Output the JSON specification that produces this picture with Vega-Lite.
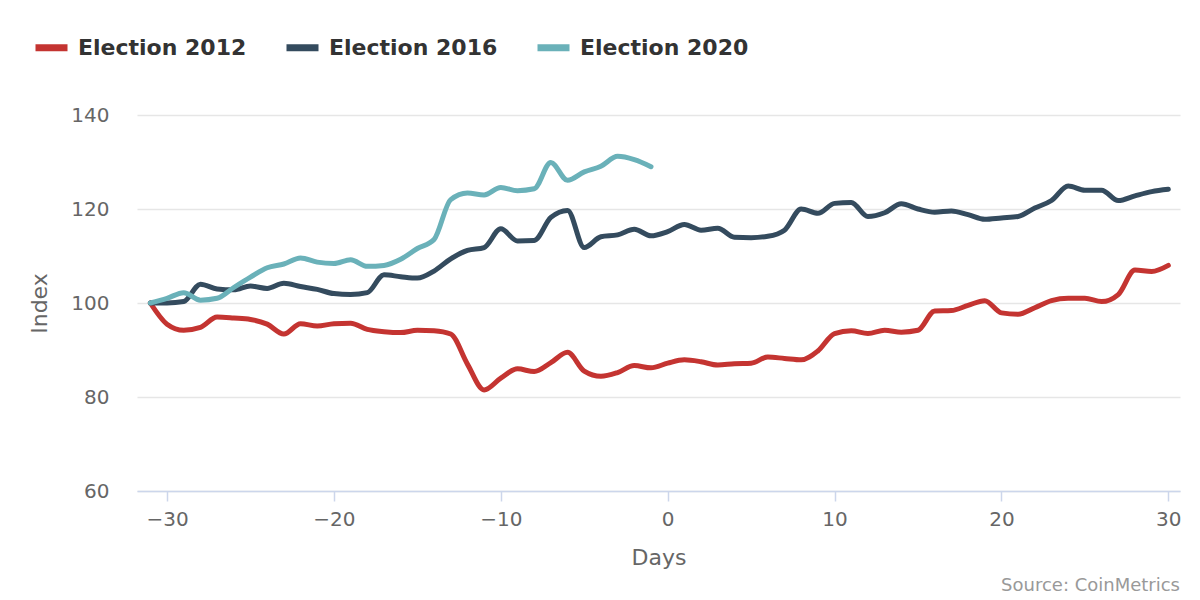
{
  "$schema": "https://vega.github.io/schema/vega-lite/v6.json",
  "width": 1043,
  "height": 376,
  "autosize": {"type": "none"},
  "padding": {"left": 137, "top": 115, "right": 20, "bottom": 109},
  "background": "white",
  "config": {"view": {"stroke": null}},
  "title": {"text": "Source: CoinMetrics", "orient": "bottom", "anchor": "end", "frame": "group", "font": "DejaVu Sans", "fontSize": 18, "fontWeight": "normal", "color": "#999999", "offset": 9},
  "datasets": {
    "s2012": [
      {"day": -31, "value": 100}, {"day": -30, "value": 95.5}, {"day": -29, "value": 94.2}, {"day": -28, "value": 94.8}, {"day": -27, "value": 97},
      {"day": -26, "value": 96.8}, {"day": -25, "value": 96.5}, {"day": -24, "value": 95.5}, {"day": -23, "value": 93.4}, {"day": -22, "value": 95.6},
      {"day": -21, "value": 95.1}, {"day": -20, "value": 95.6}, {"day": -19, "value": 95.7}, {"day": -18, "value": 94.4}, {"day": -17, "value": 93.9},
      {"day": -16, "value": 93.7}, {"day": -15, "value": 94.2}, {"day": -14, "value": 94.1}, {"day": -13, "value": 93.4}, {"day": -12, "value": 87},
      {"day": -11, "value": 81.5}, {"day": -10, "value": 84}, {"day": -9, "value": 86}, {"day": -8, "value": 85.4}, {"day": -7, "value": 87.3},
      {"day": -6, "value": 89.5}, {"day": -5, "value": 85.5}, {"day": -4, "value": 84.4}, {"day": -3, "value": 85.2}, {"day": -2, "value": 86.7},
      {"day": -1, "value": 86.2}, {"day": 0, "value": 87.2}, {"day": 1, "value": 87.9}, {"day": 2, "value": 87.5}, {"day": 3, "value": 86.8},
      {"day": 4, "value": 87.1}, {"day": 5, "value": 87.2}, {"day": 6, "value": 88.5}, {"day": 7, "value": 88.2}, {"day": 8, "value": 87.9},
      {"day": 9, "value": 89.8}, {"day": 10, "value": 93.5}, {"day": 11, "value": 94.1}, {"day": 12, "value": 93.5}, {"day": 13, "value": 94.2},
      {"day": 14, "value": 93.8}, {"day": 15, "value": 94.2}, {"day": 16, "value": 98.3}, {"day": 17, "value": 98.4}, {"day": 18, "value": 99.5},
      {"day": 19, "value": 100.5}, {"day": 20, "value": 97.9}, {"day": 21, "value": 97.6}, {"day": 22, "value": 99}, {"day": 23, "value": 100.5},
      {"day": 24, "value": 101}, {"day": 25, "value": 101}, {"day": 26, "value": 100.3}, {"day": 27, "value": 101.8}, {"day": 28, "value": 107},
      {"day": 29, "value": 106.7}, {"day": 30, "value": 108}
    ],
    "s2016": [
      {"day": -31, "value": 100}, {"day": -30, "value": 100}, {"day": -29, "value": 100.3}, {"day": -28, "value": 104}, {"day": -27, "value": 103},
      {"day": -26, "value": 102.8}, {"day": -25, "value": 103.6}, {"day": -24, "value": 103.1}, {"day": -23, "value": 104.2}, {"day": -22, "value": 103.5},
      {"day": -21, "value": 102.9}, {"day": -20, "value": 102}, {"day": -19, "value": 101.8}, {"day": -18, "value": 102.2}, {"day": -17, "value": 106},
      {"day": -16, "value": 105.6}, {"day": -15, "value": 105.3}, {"day": -14, "value": 106.8}, {"day": -13, "value": 109.4}, {"day": -12, "value": 111.2},
      {"day": -11, "value": 111.8}, {"day": -10, "value": 115.8}, {"day": -9, "value": 113.2}, {"day": -8, "value": 113.3}, {"day": -7, "value": 118.2},
      {"day": -6, "value": 119.7}, {"day": -5, "value": 111.8}, {"day": -4, "value": 114.1}, {"day": -3, "value": 114.5}, {"day": -2, "value": 115.7},
      {"day": -1, "value": 114.3}, {"day": 0, "value": 115.2}, {"day": 1, "value": 116.7}, {"day": 2, "value": 115.5}, {"day": 3, "value": 115.9},
      {"day": 4, "value": 114.0}, {"day": 5, "value": 113.9}, {"day": 6, "value": 114.2}, {"day": 7, "value": 115.5}, {"day": 8, "value": 120},
      {"day": 9, "value": 119.1}, {"day": 10, "value": 121.2}, {"day": 11, "value": 121.4}, {"day": 12, "value": 118.4}, {"day": 13, "value": 119.2},
      {"day": 14, "value": 121.1}, {"day": 15, "value": 120}, {"day": 16, "value": 119.3}, {"day": 17, "value": 119.6}, {"day": 18, "value": 118.8},
      {"day": 19, "value": 117.8}, {"day": 20, "value": 118.1}, {"day": 21, "value": 118.4}, {"day": 22, "value": 120.2}, {"day": 23, "value": 121.8},
      {"day": 24, "value": 124.9}, {"day": 25, "value": 124}, {"day": 26, "value": 124}, {"day": 27, "value": 121.8}, {"day": 28, "value": 122.8},
      {"day": 29, "value": 123.7}, {"day": 30, "value": 124.2}
    ],
    "s2020": [
      {"day": -31, "value": 100}, {"day": -30, "value": 101}, {"day": -29, "value": 102.2}, {"day": -28, "value": 100.6}, {"day": -27, "value": 101},
      {"day": -26, "value": 103.3}, {"day": -25, "value": 105.5}, {"day": -24, "value": 107.5}, {"day": -23, "value": 108.3}, {"day": -22, "value": 109.6},
      {"day": -21, "value": 108.7}, {"day": -20, "value": 108.4}, {"day": -19, "value": 109.2}, {"day": -18, "value": 107.8}, {"day": -17, "value": 108},
      {"day": -16, "value": 109.3}, {"day": -15, "value": 111.6}, {"day": -14, "value": 113.5}, {"day": -13, "value": 122}, {"day": -12, "value": 123.4},
      {"day": -11, "value": 123}, {"day": -10, "value": 124.6}, {"day": -9, "value": 123.9}, {"day": -8, "value": 124.3}, {"day": -7, "value": 129.9},
      {"day": -6, "value": 126.1}, {"day": -5, "value": 127.9}, {"day": -4, "value": 129.1}, {"day": -3, "value": 131.2}, {"day": -2, "value": 130.5},
      {"day": -1, "value": 129}
    ]
  },
  "layer": [
    {"data": {"name": "s2012"}, "transform": [{"calculate": "'Election 2012'", "as": "series"}], "mark": {"type": "line", "interpolate": "monotone", "strokeWidth": 5, "strokeCap": "round", "strokeJoin": "round"}},
    {"data": {"name": "s2016"}, "transform": [{"calculate": "'Election 2016'", "as": "series"}], "mark": {"type": "line", "interpolate": "monotone", "strokeWidth": 5, "strokeCap": "round", "strokeJoin": "round"}},
    {"data": {"name": "s2020"}, "transform": [{"calculate": "'Election 2020'", "as": "series"}], "mark": {"type": "line", "interpolate": "monotone", "strokeWidth": 5, "strokeCap": "round", "strokeJoin": "round"}}
  ],
  "encoding": {
    "x": {"field": "day", "type": "quantitative", "scale": {"domain": [-31.8, 30.7], "nice": false, "zero": false},
      "axis": {"values": [-30, -20, -10, 0, 10, 20, 30], "title": "Days", "grid": false, "domainColor": "#ccd6eb", "domainWidth": 1.5, "tickColor": "#ccd6eb", "tickWidth": 1.5, "tickSize": 10,
        "labelFont": "DejaVu Sans", "labelFontSize": 20, "labelColor": "#666666", "labelPadding": 8,
        "titleFont": "DejaVu Sans", "titleFontSize": 22, "titleFontWeight": "normal", "titleColor": "#666666", "titlePadding": 18}},
    "y": {"field": "value", "type": "quantitative", "scale": {"domain": [60, 140], "nice": false, "zero": false},
      "axis": {"values": [60, 80, 100, 120, 140], "title": "Index", "grid": true, "gridColor": "#e6e6e6", "gridWidth": 1.5, "domain": false, "ticks": false,
        "labelFont": "DejaVu Sans", "labelFontSize": 20, "labelColor": "#666666", "labelPadding": 28,
        "titleFont": "DejaVu Sans", "titleFontSize": 22, "titleFontWeight": "normal", "titleColor": "#666666", "titlePadding": 19}},
    "color": {"field": "series", "type": "nominal",
      "scale": {"domain": ["Election 2012", "Election 2016", "Election 2020"], "range": ["#c43431", "#344b5e", "#6ab1b9"]},
      "legend": {"title": null, "orient": "none", "legendX": -105, "legendY": -87, "direction": "horizontal",
        "symbolType": "stroke", "symbolSize": 1024, "symbolStrokeWidth": 7, "labelOffset": 7, "columnPadding": 25,
        "labelFont": "DejaVu Sans", "labelFontWeight": "bold", "labelFontSize": 22, "labelColor": "#333333", "labelLimit": 400}}
  }
}
